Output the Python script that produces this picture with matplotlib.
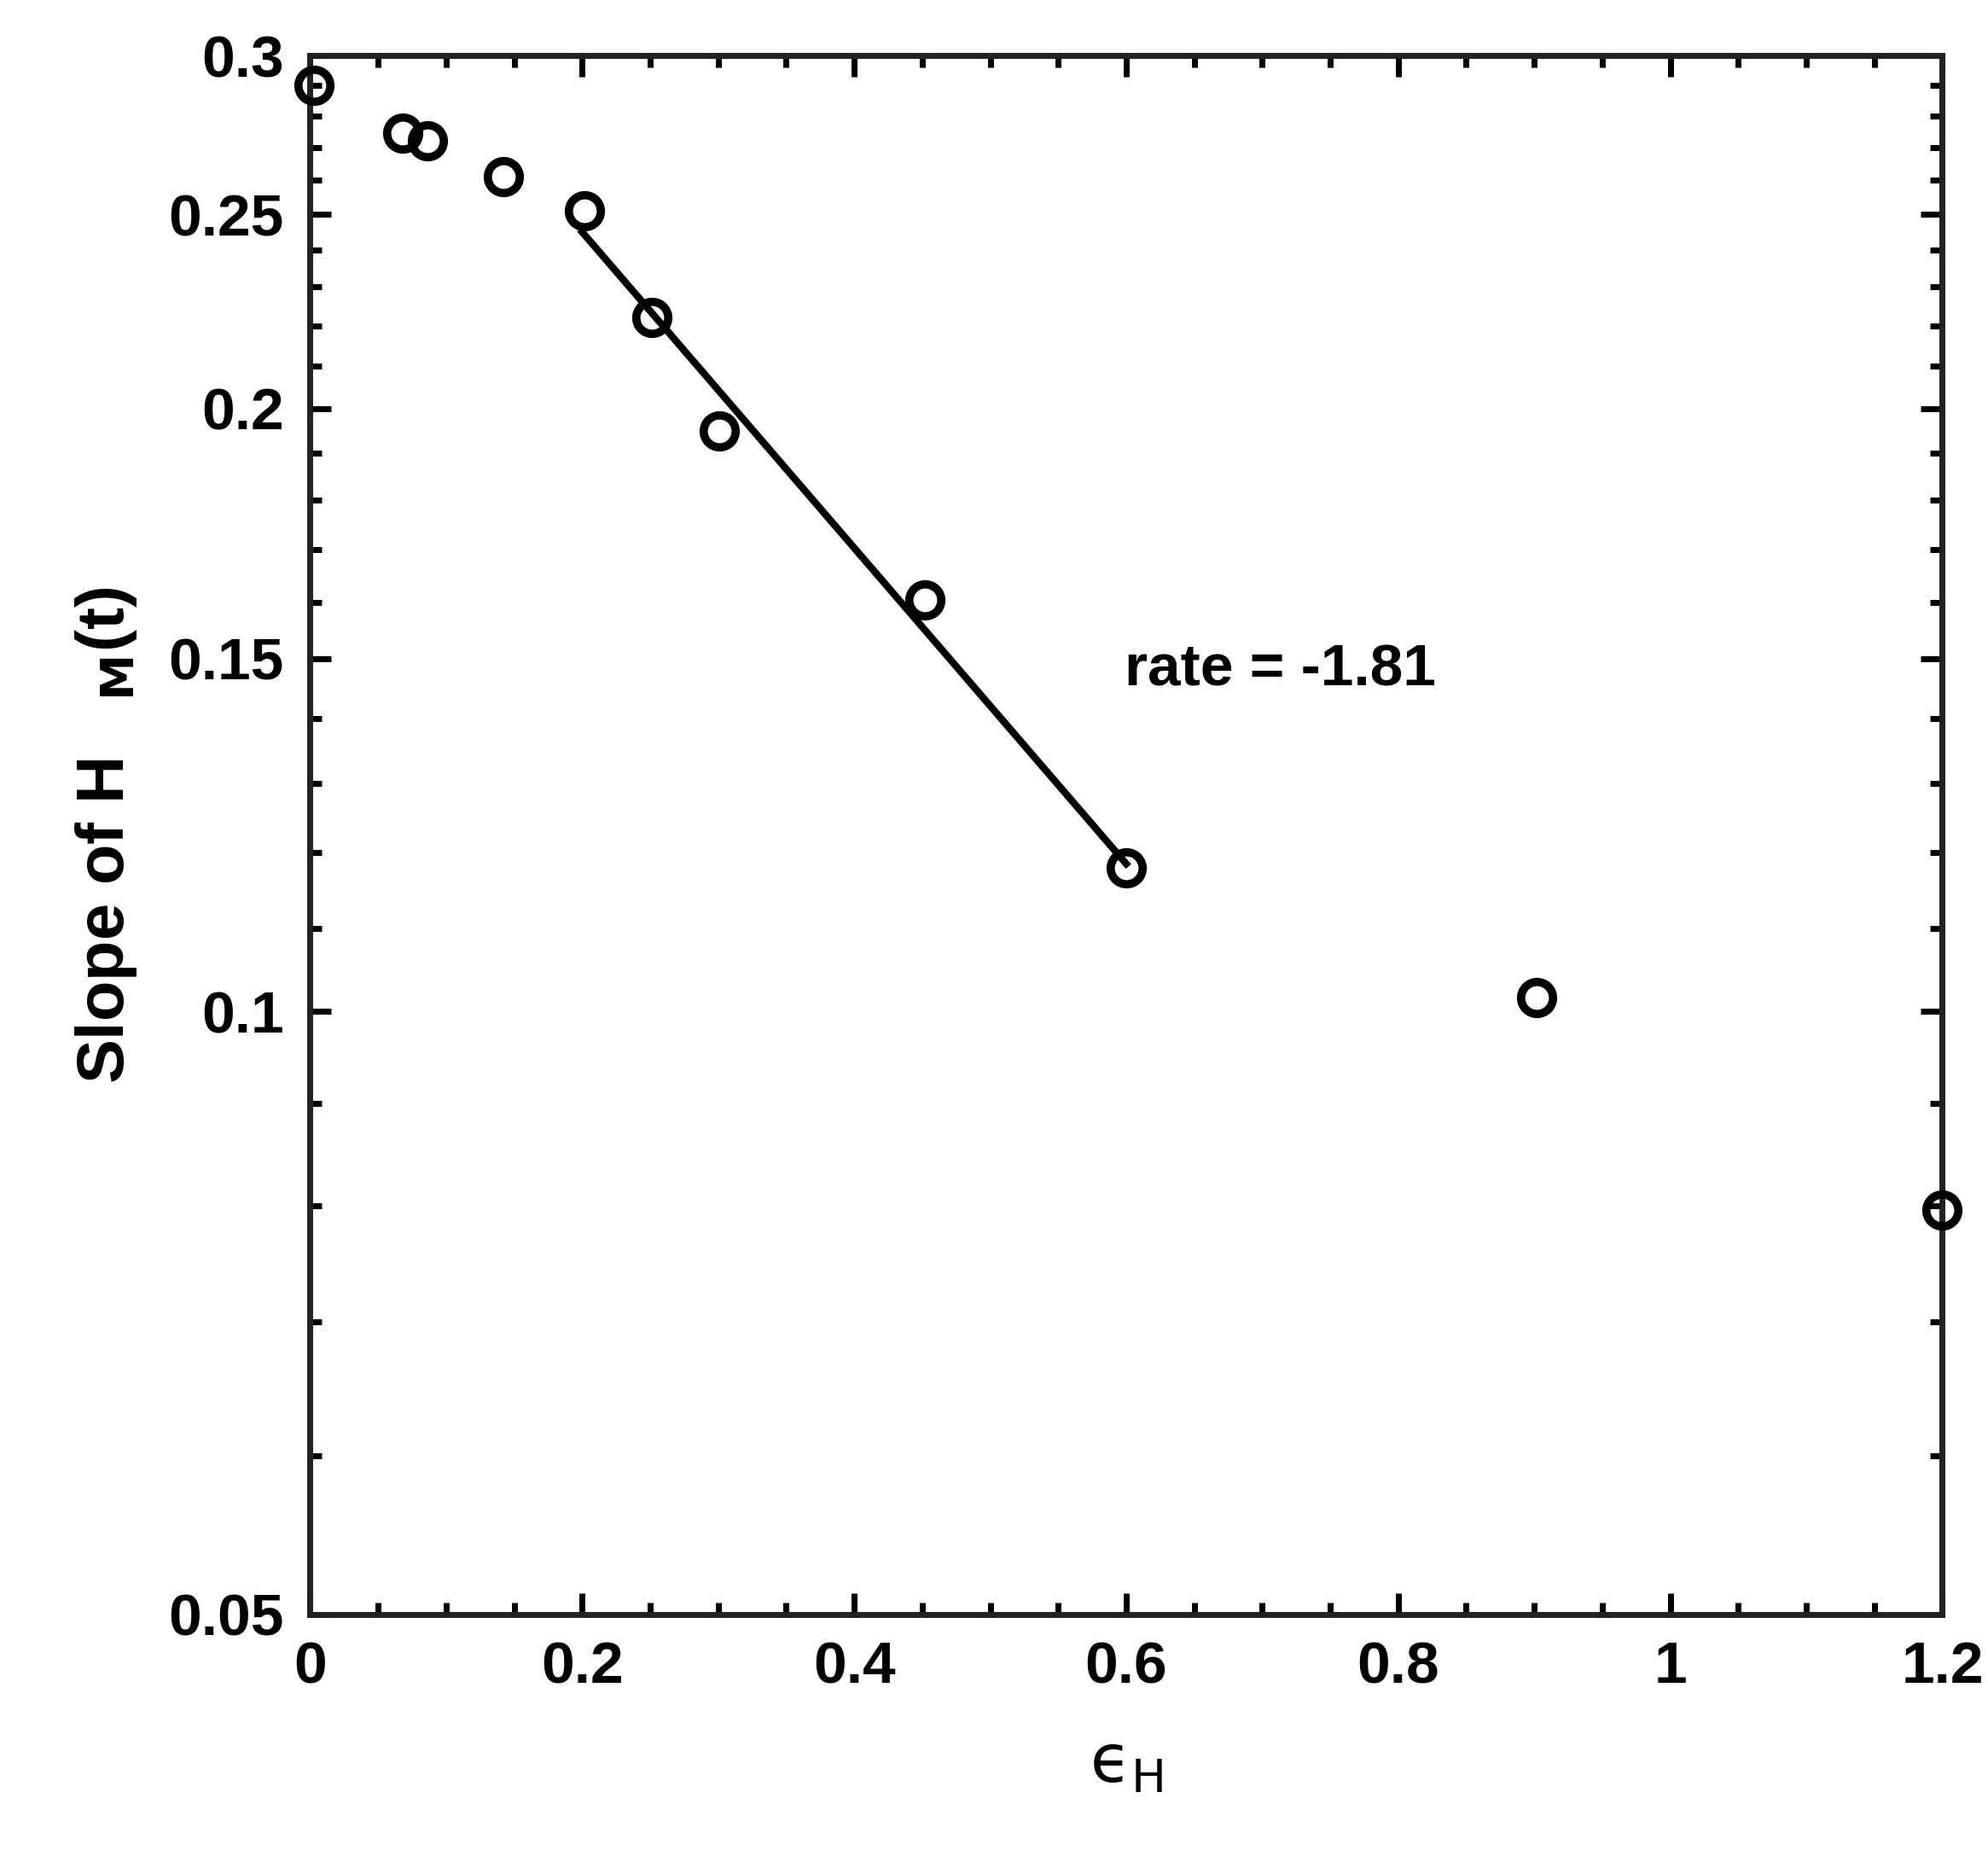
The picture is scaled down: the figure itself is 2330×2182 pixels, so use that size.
import matplotlib
matplotlib.use("Agg")
import matplotlib.pyplot as plt
from matplotlib.ticker import FixedLocator, NullFormatter

plt.rcParams['font.family'] = ['Liberation Sans', 'DejaVu Sans']

eps_H = [0.003, 0.068, 0.086, 0.142, 0.2015, 0.251, 0.301, 0.452, 0.600, 0.902, 1.2]
slope = [0.290, 0.2746, 0.272, 0.261, 0.251, 0.222, 0.195, 0.1605, 0.118, 0.1016, 0.0796]
fit_x = [0.2, 0.6]
fit_y = [0.245, 0.1185]

fig = plt.figure(figsize=(23.3, 21.82), dpi=100)
ax = fig.add_axes([0.156, 0.133, 0.821, 0.837])
ax.plot(eps_H, slope, 'o', mfc='none', mec='black', ms=27, mew=7, clip_on=False, zorder=3)
ax.plot(fit_x, fit_y, '-', color='black', lw=6)
ax.set_yscale('log')
ax.set_xlim(0, 1.2)
ax.set_ylim(0.05, 0.3)
yt = [0.05, 0.1, 0.15, 0.2, 0.25, 0.3]
ax.yaxis.set_major_locator(FixedLocator(yt))
ax.set_yticklabels(['0.05', '0.1', '0.15', '0.2', '0.25', '0.3'])
ax.yaxis.set_minor_locator(FixedLocator([0.06,0.07,0.08,0.09,0.11,0.12,0.13,0.14,0.16,0.17,0.18,0.19,0.21,0.22,0.23,0.24,0.26,0.27,0.28,0.29]))
ax.yaxis.set_minor_formatter(NullFormatter())
ax.set_xticks([0, 0.2, 0.4, 0.6, 0.8, 1.0, 1.2])
ax.set_xticklabels(['0', '0.2', '0.4', '0.6', '0.8', '1', '1.2'])
ax.set_xticks([i*0.05 for i in range(25)], minor=True)
ax.tick_params(which='both', direction='in', top=True, right=True, width=5)
ax.tick_params(which='major', length=18, labelsize=50, pad=22)
ax.tick_params(which='minor', length=10)
for lab in ax.get_xticklabels() + ax.get_yticklabels():
    lab.set_fontweight('bold')
for s in ax.spines.values():
    s.set_linewidth(5)
    s.set_color('#222222')
ax.set_xlabel('ϵ$_{\\mathrm{H}}$', fontsize=56, labelpad=30, family=['DejaVu Sans'])
ax.set_ylabel(r'Slope of H   $_{\mathbf{M}}$(t)', fontsize=56, fontweight='bold', labelpad=25)
ax.text(0.713, 0.148, 'rate = -1.81', fontsize=50, fontweight='bold', ha='center', va='center')
fig.savefig('out.png', dpi=100)
